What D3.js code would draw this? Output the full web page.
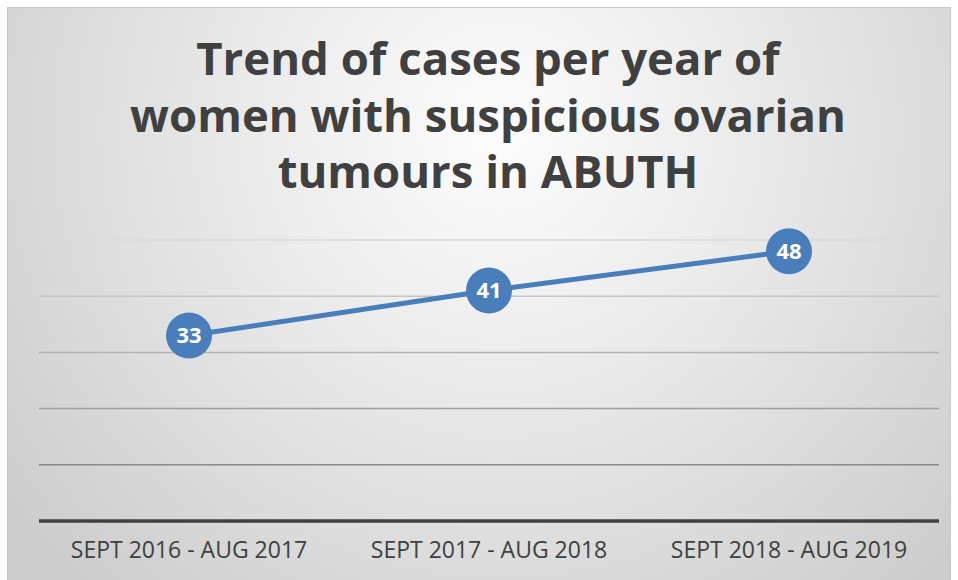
<!DOCTYPE html>
<html>
<head>
<meta charset="utf-8">
<script src="https://cdn.jsdelivr.net/npm/d3@7"></script>
<style>
  html, body { margin: 0; padding: 0; background: #fff; }
  svg { display: block; }
</style>
</head>
<body>
<div id="chart"></div>
<script>
const width = 958;
const height = 580;

// Chart data
const periods = ["SEPT 2016 - AUG 2017", "SEPT 2017 - AUG 2018", "SEPT 2018 - AUG 2019"];
const cases = [33, 41, 48];
const yTicks = [10, 20, 30, 40, 50];
const titleLines = ["Trend of cases per year of", "women with suspicious ovarian", "tumours in ABUTH"];

const plot = {left: 39, right: 939, top: 240, bottom: 521};

const svg = d3.select("#chart")
  .append("svg")
    .attr("width", width)
    .attr("height", height);

// Background gradient, light in the upper middle, grey toward the edges.
const defs = svg.append("defs");
const bg = defs.append("radialGradient")
    .attr("id", "bg")
    .attr("gradientUnits", "userSpaceOnUse")
    .attr("cx", 500).attr("cy", 130).attr("r", 620);
bg.append("stop").attr("offset", "0%").attr("stop-color", "#fdfdfd");
bg.append("stop").attr("offset", "40%").attr("stop-color", "#ebebeb");
bg.append("stop").attr("offset", "100%").attr("stop-color", "#cdcdcd");

svg.append("rect")
    .attr("x", 7.5).attr("y", 7.5)
    .attr("width", 943).attr("height", 580)
    .attr("fill", "url(#bg)")
    .attr("stroke", "#c8c8c8")
    .attr("stroke-width", 1);

const x = d3.scaleBand()
    .domain(periods)
    .range([plot.left, plot.right]);

const y = d3.scaleLinear()
    .domain([0, 50])
    .range([plot.bottom, plot.top]);

const cx = d => x(d) + x.bandwidth() / 2;

// Gridlines get darker toward the bottom.
const gridColor = d3.scaleLinear()
    .domain([10, 50])
    .range(["#8a8a8a", "#dadada"]);

svg.append("g")
  .selectAll("line")
  .data(yTicks)
  .join("line")
    .attr("x1", plot.left)
    .attr("x2", plot.right)
    .attr("y1", d => y(d))
    .attr("y2", d => y(d))
    .attr("stroke", d => gridColor(d))
    .attr("stroke-width", 1.5);

// x axis
const xAxis = svg.append("g")
    .attr("transform", `translate(0,${y(0)})`)
    .call(d3.axisBottom(x).tickSize(0).tickPadding(21));
xAxis.select(".domain")
    .attr("stroke", "#404040")
    .attr("stroke-width", 3.5)
    .attr("d", `M${plot.left},0H${plot.right}`);
xAxis.selectAll("text")
    .attr("fill", "#404040")
    .attr("font-family", "'Open Sans', sans-serif")
    .attr("font-size", 23);

// Title
svg.append("text")
    .attr("text-anchor", "middle")
    .attr("font-family", "'Open Sans', sans-serif")
    .attr("font-weight", "bold")
    .attr("font-size", 45.5)
    .attr("fill", "#404040")
  .selectAll("tspan")
  .data(titleLines)
  .join("tspan")
    .attr("x", 488)
    .attr("y", (d, i) => 75 + i * 56.5)
    .text(d => d);

// Line and markers
const points = periods.map((p, i) => ({period: p, value: cases[i]}));

const line = d3.line()
    .x(d => cx(d.period))
    .y(d => y(d.value));

svg.append("path")
    .datum(points)
    .attr("fill", "none")
    .attr("stroke", "#4a7ebb")
    .attr("stroke-width", 5)
    .attr("d", line);

svg.append("g")
  .selectAll("circle")
  .data(points)
  .join("circle")
    .attr("cx", d => cx(d.period))
    .attr("cy", d => y(d.value))
    .attr("r", 23)
    .attr("fill", "#4a7ebb");

svg.append("g")
  .selectAll("text")
  .data(points)
  .join("text")
    .attr("x", d => cx(d.period))
    .attr("y", d => y(d.value))
    .attr("dy", "0.35em")
    .attr("text-anchor", "middle")
    .attr("font-family", "'Open Sans', sans-serif")
    .attr("font-weight", "bold")
    .attr("font-size", 22)
    .attr("fill", "#ffffff")
    .text(d => d.value);
</script>
</body>
</html>
